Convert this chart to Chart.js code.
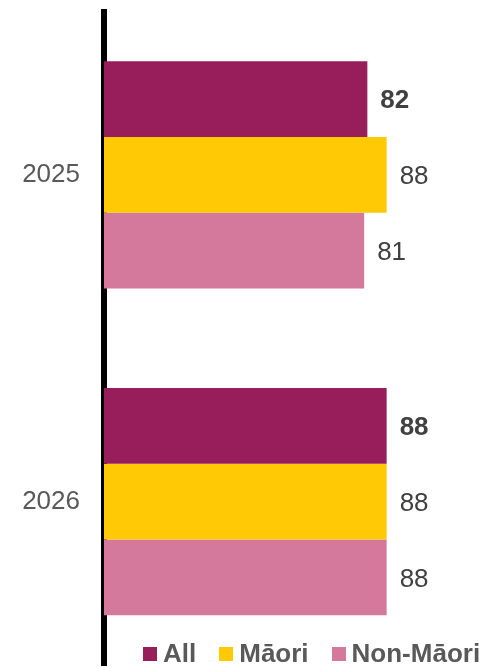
<!DOCTYPE html>
<html>
<head>
<meta charset="utf-8">
<script src="https://cdn.jsdelivr.net/npm/chart.js@4/dist/chart.umd.min.js"></script>
<style>
  html, body { margin: 0; padding: 0; background: #fff; overflow: hidden; }
  #wrap { position: relative; width: 483px; height: 667px; }
  #legend {
    position: absolute; left: 143px; top: 640px; white-space: nowrap;
    display: flex; font: bold 26px "Liberation Sans", Arial, sans-serif;
    color: #595959; line-height: 26px;
  }
  .item { display: flex; align-items: center; margin-right: 23px; flex: none; }
  .box { width: 14px; height: 14px; margin-right: 6px; position: relative; top: 1px; }
</style>
</head>
<body>
<div id="wrap">
  <canvas id="chart" width="483" height="667"></canvas>
  <div id="legend"></div>
</div>
<script>
const years = ['2025', '2026']
const seriesNames = ['All', 'Māori', 'Non-Māori']
const allValues = [82, 88]
const maoriValues = [88, 88]
const nonMaoriValues = [81, 88]
const colours = ['#981D5B', '#FFCA05', '#D4799B']

const ctx = document.getElementById('chart').getContext('2d')

// value labels just past the end of each bar, the "All" series in bold
const barLabels = {
  id: 'barLabels',
  afterDatasetsDraw(chart) {
    const c = chart.ctx
    c.save()
    c.fillStyle = '#404040'
    c.textAlign = 'left'
    c.textBaseline = 'middle'
    chart.data.datasets.forEach((ds, i) => {
      c.font = (i === 0 ? 'bold ' : '') + '26px "Liberation Sans", Arial, sans-serif'
      chart.getDatasetMeta(i).data.forEach((bar, j) => {
        c.fillText(ds.data[j], bar.x + 13, bar.y + 2)
      })
    })
    c.restore()
  }
}

const chart = new Chart(ctx, {
  type: 'bar',
  data: {
    labels: years,
    datasets: [
      { label: seriesNames[0], data: allValues, backgroundColor: colours[0] },
      { label: seriesNames[1], data: maoriValues, backgroundColor: colours[1] },
      { label: seriesNames[2], data: nonMaoriValues, backgroundColor: colours[2] }
    ]
  },
  options: {
    indexAxis: 'y',
    responsive: false,
    animation: false,
    categoryPercentage: 0.696,
    barPercentage: 1,
    layout: { padding: { top: 11.5, bottom: 2, left: 0, right: 0 } },
    plugins: {
      legend: { display: false },
      tooltip: { enabled: false }
    },
    scales: {
      x: { display: false, min: 0, max: 118 },
      y: {
        z: 1,
        grid: { display: false, drawTicks: false },
        border: { display: true, color: '#000', width: 6 },
        ticks: {
          color: '#595959',
          padding: 24,
          font: { family: '"Liberation Sans", Arial, sans-serif', size: 26 }
        },
        afterFit(scale) {
          // fixed axis width, and keep the tick padding from eating vertical space
          scale.width = 104
          scale.paddingTop = 0
          scale.paddingBottom = 0
        }
      }
    }
  },
  plugins: [barLabels]
})

// legend below the bars
const legend = document.getElementById('legend')
seriesNames.forEach((name, i) => {
  const item = document.createElement('div')
  item.className = 'item'
  const box = document.createElement('span')
  box.className = 'box'
  box.style.background = colours[i]
  const txt = document.createElement('span')
  txt.textContent = name
  item.appendChild(box)
  item.appendChild(txt)
  legend.appendChild(item)
})
</script>
</body>
</html>
